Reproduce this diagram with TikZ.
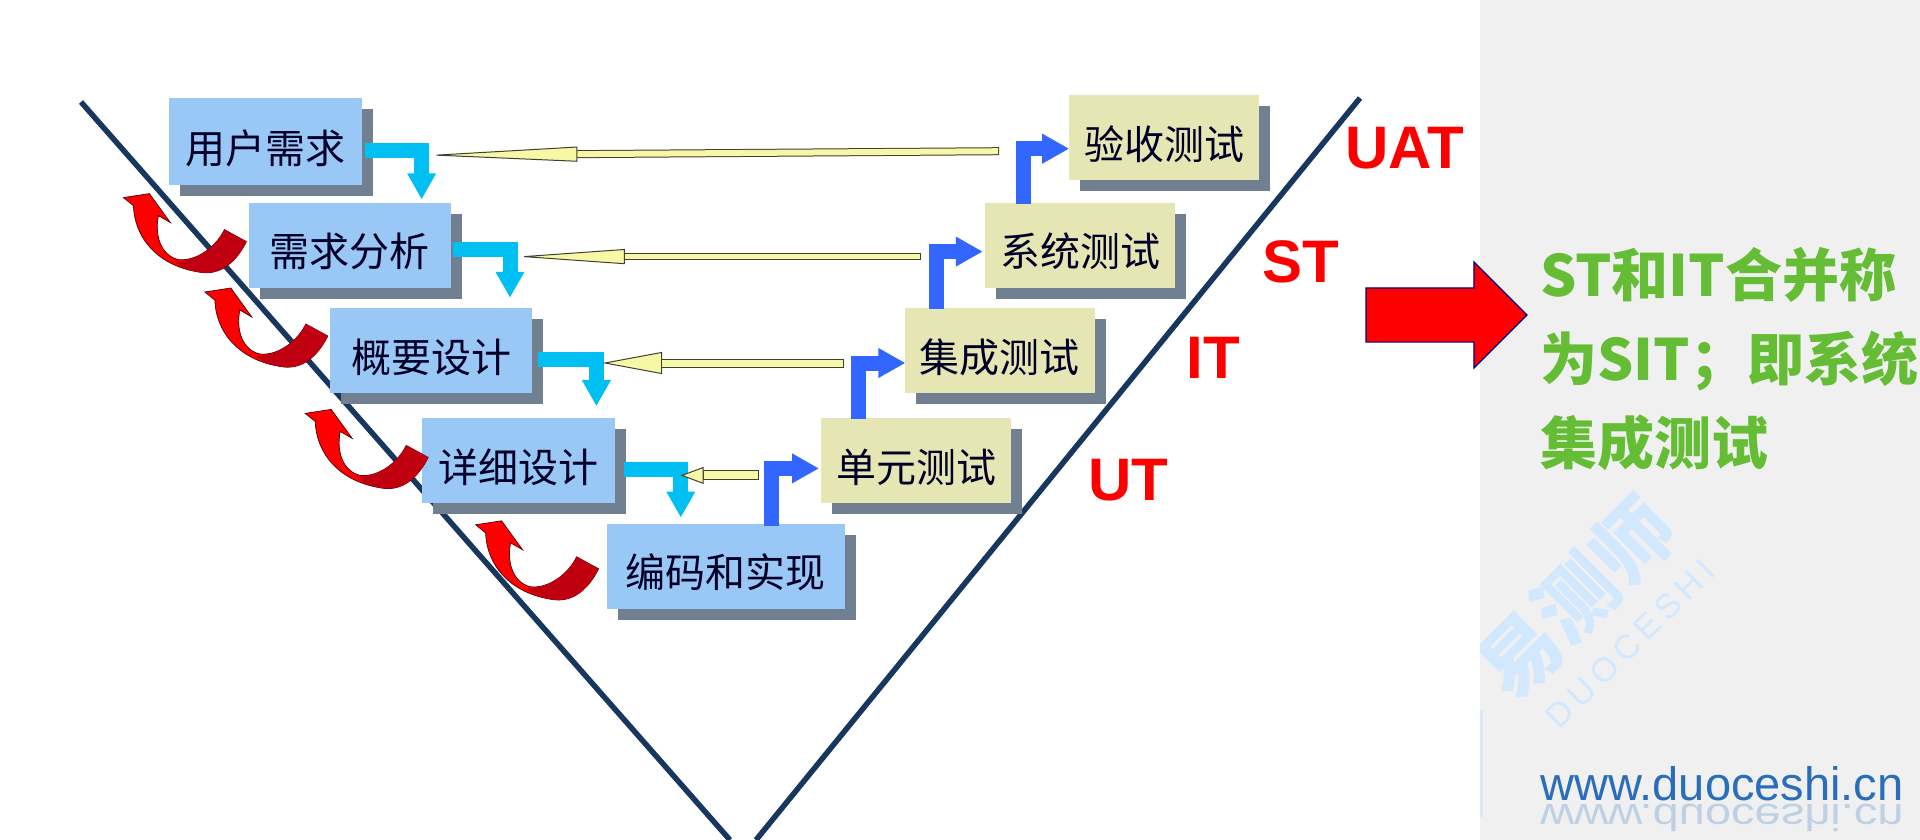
\documentclass[tikz,border=0pt]{standalone}
\usepackage{fontspec}
\usetikzlibrary{positioning,arrows.meta,shadows,shapes.arrows}
\newfontfamily\cjk{Noto Sans CJK SC}
\newfontfamily\latinsans{Liberation Sans}
\newfontfamily\markfont[LetterSpace=18]{Liberation Sans}
\definecolor{boxblue}{HTML}{99C8F7}
\definecolor{boxyellow}{HTML}{E6E6B4}
\definecolor{boxshadow}{HTML}{708090}
\definecolor{vline}{HTML}{17375E}
\definecolor{cyanflow}{HTML}{00BFF3}
\definecolor{blueflow}{HTML}{3366FF}
\definecolor{paleyellow}{HTML}{F7F7A8}
\definecolor{leafgreen}{HTML}{65BD35}
\definecolor{panelgray}{HTML}{F0F0F0}
\definecolor{markblue}{HTML}{D2E8FF}
\definecolor{webblue}{HTML}{2A6EBB}
\definecolor{darkred}{HTML}{C00010}
\begin{document}
\begin{tikzpicture}
[
    x=1pt, y=-1pt,
    stage/.style={minimum height=85pt, inner sep=0pt, text height=43pt, text depth=0pt,
        text=black!85!blue, font=\cjk\fontsize{40}{40}\selectfont,
        general shadow={shadow xshift=11pt, shadow yshift=-11pt, fill=boxshadow}},
    bluebox/.style={stage, fill=boxblue},
    yellowbox/.style={stage, fill=boxyellow, minimum width=190pt},
    vside/.style={draw=vline, line width=5.5pt},
    downflow/.style={draw=cyanflow, line width=15pt, -{Triangle[length=26pt,width=27pt]}},
    upflow/.style={draw=blueflow, line width=15pt, -{Triangle[length=27pt,width=28pt]}},
    backflow/.style n args={3}{draw=black!70!olive, line width=#3pt,
        -{Triangle[length=#1pt,width=#2pt,line width=1pt,fill=paleyellow]},
        postaction={draw=paleyellow, line width=#3pt-2pt, -, shorten >=#1pt, shorten <=1pt}},
    testlabel/.style={text=red, font=\latinsans\bfseries\fontsize{60}{60}\selectfont},
    curlyarrow/.pic={
        \draw[fill=red, draw=black!70!red, line width=.7pt]
            (-113,-36) .. controls (-112,-5) and (-90,25) .. (-44,31)
            .. controls (-25,33) and (-10,20) .. (0,0) -- (-22,-12)
            .. controls (-30,5) and (-50,20) .. (-68,18)
            .. controls (-85,14) and (-92,-5) .. (-88,-26)
            -- (-76,-19) -- (-97,-48) -- (-123,-44) -- cycle;
        \fill[darkred] (-72,20) .. controls (-62,28) and (-52,30) .. (-44,31)
            .. controls (-25,33) and (-10,20) .. (0,0) -- (-22,-12)
            .. controls (-30,5) and (-50,20) .. (-72,20) -- cycle;
    },
]
\clip (0,0) rectangle (1920,840);
\fill[white] (0,0) rectangle (1920,840);
\fill[panelgray] (1480,0) rectangle (1920,840);
\fill[markblue!70!panelgray] (1480,710) rectangle (1483,817);
\begin{scope}
\clip (1480,400) rectangle (1920,760);
\node (markcn) [rotate=45, text=markblue, font=\cjk\bfseries\fontsize{80}{80}\selectfont] at (1576,598) {易测师};
\node (markla) [rotate=45, text=markblue, font=\markfont\fontsize{34}{34}\selectfont] at (1630,644) {DUOCESHI};
\end{scope}
\coordinate (lefttop) at (81,102);
\coordinate (leftend) at (730,840);
\coordinate (righttop) at (1360,98);
\coordinate (rightend) at (756,840);
\draw[vside] (lefttop) -- (leftend);
\draw[vside] (righttop) -- (rightend);
\node (ur) [bluebox, minimum width=193pt, minimum height=87pt, anchor=north west] at (169,98) {用户需求};
\node (xq) [bluebox, minimum width=202pt, below right=17pt and -114pt of ur] {需求分析};
\node (gy) [bluebox, minimum width=202pt, below right=20pt and -121pt of xq] {概要设计};
\node (xx) [bluebox, minimum width=193pt, below right=25pt and -110pt of gy] {详细设计};
\node (xm) [bluebox, minimum width=238pt, below right=20pt and -9pt of xx] {编码和实现};
\node (ut) [yellowbox, above right=20pt and -24pt of xm] {单元测试};
\node (it) [yellowbox, above right=25pt and -107pt of ut] {集成测试};
\node (st) [yellowbox, above right=20pt and -110pt of it] {系统测试};
\node (uat) [yellowbox, above right=22pt and -106pt of st] {验收测试};
\draw[downflow] ([xshift=3pt,yshift=-8.5pt]ur.east) -| ([xshift=72pt,yshift=3pt]xq.north);
\draw[downflow] ([xshift=2pt,yshift=-4.5pt]xq.east) -| ([xshift=79pt,yshift=10pt]gy.north);
\draw[downflow] ([xshift=6pt,yshift=-8.5pt]gy.east) -| ([xshift=77.5pt,yshift=12pt]xx.north);
\draw[downflow] ([xshift=8pt,yshift=-8.5pt]xx.east) -| ([xshift=-45pt,yshift=6pt]xm.north);
\draw[upflow] ([xshift=46pt,yshift=-2pt]xm.north) |- ([xshift=-2pt,yshift=-7.5pt]ut.west);
\draw[upflow] ([xshift=-57.5pt,yshift=-1pt]ut.north) |- ([xshift=1pt,yshift=-12.5pt]it.west);
\draw[upflow] ([xshift=-63pt,yshift=-1pt]it.north) |- ([xshift=-2pt,yshift=-6.5pt]st.west);
\draw[upflow] ([xshift=-56.5pt,yshift=-2pt]st.north) |- ([yshift=-11pt]uat.west);
\draw[backflow={151}{15}{8}] ([xshift=-70pt,yshift=-13.5pt]uat.west) -- ([xshift=64pt,yshift=-13.5pt]ur.east);
\draw[backflow={108}{15}{7}] ([xshift=-64pt,yshift=-11.5pt]st.west) -- ([xshift=66pt,yshift=-11.5pt]xq.east);
\draw[backflow={60}{22}{9}] ([xshift=-60pt,yshift=-12.5pt]it.west) -- ([xshift=70pt,yshift=-12.5pt]gy.east);
\draw[backflow={23}{17}{10}] ([xshift=-62pt,yshift=-14.5pt]ut.west) -- ([xshift=65pt,yshift=-14.5pt]xx.east);
\pic (backa) at ([xshift=-2pt,yshift=3.5pt]xq.west) {curlyarrow};
\pic (backb) at ([xshift=-2pt,yshift=14.5pt]gy.west) {curlyarrow};
\pic (backc) at ([xshift=6pt,yshift=3.5pt]xx.west) {curlyarrow};
\pic (backd) at ([xshift=-8pt,yshift=-2.5pt]xm.west) {curlyarrow};
\node (uatlabel) [testlabel] at (1405,148) {UAT};
\node (stlabel) [testlabel] at (1301,262) {ST};
\node (itlabel) [testlabel] at (1213,358) {IT};
\node (utlabel) [testlabel] at (1128,480) {UT};
\node (sitarrow) [single arrow, draw=blue!50!black, line width=1.2pt, fill=red, inner xsep=0pt, inner ysep=26.5pt,
    minimum height=161pt, single arrow head extend=26pt] at (1433,315) {};
\node (sitnote) [anchor=north west, align=left, inner sep=0pt, text=leafgreen,
    font=\cjk\bfseries\fontsize{57}{84}\selectfont] at (1540,247) {ST和IT合并称\\为SIT；即系统\\集成测试};
\node (webmirror) [yscale=-.8, text=webblue!25!panelgray, font=\latinsans\fontsize{47}{47}\selectfont] at (1722,818) {www.duoceshi.cn};
\node (website) [text=webblue, font=\latinsans\fontsize{47}{47}\selectfont] at (1722,784) {www.duoceshi.cn};
\end{tikzpicture}
\end{document}
